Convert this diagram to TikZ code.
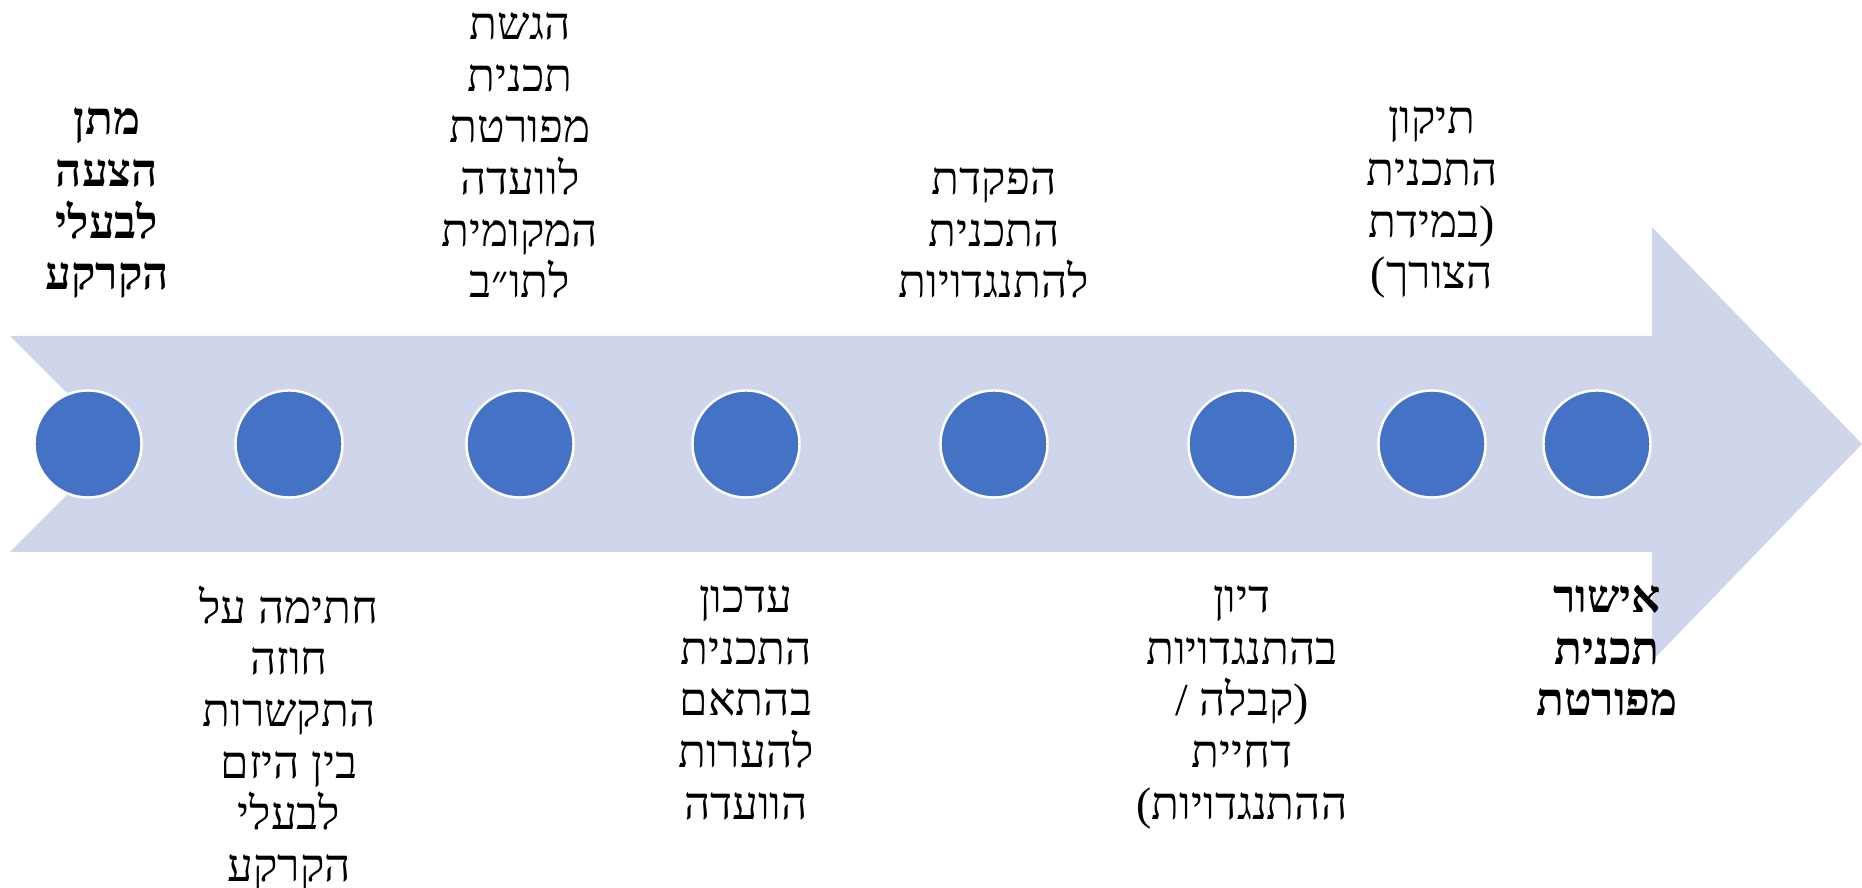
\documentclass[tikz,border=0pt]{standalone}
\usepackage{fontspec}
\usepackage{tikz}
\usetikzlibrary{positioning}
\usepackage{xcolor}
\TeXXeTstate=1
\newfontfamily\hebfont[Script=Hebrew]{Liberation Serif}
\definecolor{arrowfill}{RGB}{207,213,234}
\definecolor{dotblue}{RGB}{68,114,196}
\newcommand{\heb}[1]{\beginR #1\endR}

\begin{document}
\begin{tikzpicture}[
    x=0.01cm, y=0.01cm,
    dot/.style={circle, fill=dotblue, draw=white, line width=0.7pt, minimum size=1.07cm, inner sep=0pt},
    steplabel/.style={align=center, inner sep=0pt, font=\hebfont\fontsize{13}{14.7}\selectfont},
    boldlabel/.style={font=\hebfont\bfseries\fontsize{13}{14.7}\selectfont},
    toplabel/.style={steplabel, above=0.9cm of #1},
    botlabel/.style={steplabel, below=0.86cm of #1}
]
\useasboundingbox (0,0) rectangle (1862,888);

% the big arrow
\fill[arrowfill] (10,552) -- (118,444) -- (10,336) -- (1652,336) -- (1652,227)
    -- (1862,444) -- (1652,661) -- (1652,552) -- cycle;

% steps
\node[dot] (c1) at (88,444) {};
\node[dot] (c2) at (289,444) {};
\node[dot] (c3) at (520,444) {};
\node[dot] (c4) at (746,444) {};
\node[dot] (c5) at (994,444) {};
\node[dot] (c6) at (1242,444) {};
\node[dot] (c7) at (1432,444) {};
\node[dot] (c8) at (1597,444) {};

% texts above
\node[toplabel=c1, boldlabel, xshift=0.19cm] (l1)
    {\heb{מתן}\\\heb{הצעה}\\\heb{לבעלי}\\\heb{הקרקע}};
\node[toplabel=c3] (l3)
    {\heb{הגשת}\\\heb{תכנית}\\\heb{מפורטת}\\\heb{לוועדה}\\\heb{המקומית}\\\heb{לתו״ב}};
\node[toplabel=c5] (l5)
    {\heb{הפקדת}\\\heb{התכנית}\\\heb{להתנגדויות}};
\node[toplabel=c7] (l7)
    {\heb{תיקון}\\\heb{התכנית}\\\heb{(במידת}\\\heb{הצורך)}};

% texts below
\node[botlabel=c2] (l2)
    {\heb{חתימה על}\\\heb{חוזה}\\\heb{התקשרות}\\\heb{בין היזם}\\\heb{לבעלי}\\\heb{הקרקע}};
\node[botlabel=c4] (l4)
    {\heb{עדכון}\\\heb{התכנית}\\\heb{בהתאם}\\\heb{להערות}\\\heb{הוועדה}};
\node[botlabel=c6] (l6)
    {\heb{דיון}\\\heb{בהתנגדויות}\\\heb{(קבלה /}\\\heb{דחיית}\\\heb{ההתנגדויות)}};
\node[botlabel=c8, boldlabel, xshift=0.1cm] (l8)
    {\heb{אישור}\\\heb{תכנית}\\\heb{מפורטת}};
\end{tikzpicture}
\end{document}
